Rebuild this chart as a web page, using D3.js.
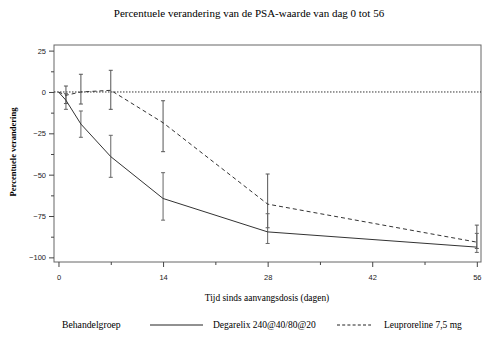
<!DOCTYPE html>
<html><head><meta charset="utf-8">
<script src="https://cdn.jsdelivr.net/npm/d3@7"></script>
<style>body{margin:0;background:#fff}</style>
</head><body>
<svg id="c" width="498" height="338"></svg>
<script>
const days = [0, 1, 3, 7, 14, 28, 56];
const degarelix = [0, -5, -19.4, -39.1, -64.4, -84.6, -93.8];
const degLow = [null, -10.5, -27.4, -51.6, -77.5, -91.6, -97];
const degHigh = [null, -1, -11.5, -26.2, -48.8, -73.6, -85.5];
const leuprorelin = [0, -2, 0, 1, -18.6, -67.8, -90.8];
const leuLow = [null, -7, -7.3, -10.5, -36.1, -82.1, -94.6];
const leuHigh = [null, 3.6, 10.7, 13.1, -5.3, -49.6, -80.5];
const xTicks = [0, 14, 28, 42, 56];
const xMinor = [7, 21, 35, 49];
const yTicks = [25, 0, -25, -50, -75, -100];
const yMinor = [12.5, -12.5, -37.5, -62.5, -87.5];
const title = "Percentuele verandering van de PSA-waarde van dag 0 tot 56";
const yLabel = "Percentuele verandering";
const xLabel = "Tijd sinds aanvangsdosis (dagen)";
const legendTitle = "Behandelgroep";
const seriesNames = ["Degarelix 240@40/80@20", "Leuproreline 7,5 mg"];

const svg = d3.select("#c");
const L = 54, R = 481, T = 45, B = 262;
const x = d3.scaleLinear().domain([-0.6, 56.56]).range([L, R]);
const y = d3.scaleLinear().domain([-102.8, 28.4]).range([B, T]);
const serif = "'Liberation Serif','Times New Roman',serif";
const sans = "'Liberation Sans',Arial,sans-serif";

svg.append("text").attr("x", 249).attr("y", 17).attr("text-anchor", "middle")
  .attr("font-family", serif).attr("font-size", 11).text(title);

// frame
svg.append("rect").attr("x", L).attr("y", T).attr("width", R - L).attr("height", B - T)
  .attr("fill", "none").attr("stroke", "#666").attr("stroke-width", 1);

// y axis
const yAx = svg.append("g").attr("transform", `translate(${L},0)`)
  .call(d3.axisLeft(y).tickValues(yTicks).tickSize(5).tickFormat(d => d === 0 ? "0" : (d < 0 ? "\u2212" + Math.abs(d) : d)));
yAx.select(".domain").remove();
yAx.selectAll("line").attr("stroke", "#444");
yAx.selectAll("text").attr("font-family", sans).attr("font-size", 7.5).attr("fill", "#222").attr("x", -8);
const yAm = svg.append("g").attr("transform", `translate(${L},0)`)
  .call(d3.axisLeft(y).tickValues(yMinor).tickSize(3).tickFormat(""));
yAm.select(".domain").remove();
yAm.selectAll("line").attr("stroke", "#444");

// x axis
const xAx = svg.append("g").attr("transform", `translate(0,${B})`)
  .call(d3.axisBottom(x).tickValues(xTicks).tickSize(5));
xAx.select(".domain").remove();
xAx.selectAll("line").attr("stroke", "#444");
xAx.selectAll("text").attr("font-family", sans).attr("font-size", 7.5).attr("fill", "#222").attr("y", 13);
const xAm = svg.append("g").attr("transform", `translate(0,${B})`)
  .call(d3.axisBottom(x).tickValues(xMinor).tickSize(3).tickFormat(""));
xAm.select(".domain").remove();
xAm.selectAll("line").attr("stroke", "#444");

// labels
svg.append("text").attr("transform", `translate(16,152) rotate(-90)`)
  .attr("text-anchor", "middle").attr("font-family", serif).attr("font-weight", "bold")
  .attr("font-size", 8.5).text(yLabel);
svg.append("text").attr("x", 267).attr("y", 301).attr("text-anchor", "middle")
  .attr("font-family", serif).attr("font-size", 9.4).text(xLabel);

// zero line
svg.append("line").attr("x1", L).attr("x2", R).attr("y1", y(0)).attr("y2", y(0))
  .attr("stroke", "#000").attr("stroke-width", 0.8).attr("stroke-dasharray", "1.5,1.5");

// error bars
function errBars(lo, hi, color) {
  const g = svg.append("g").attr("stroke", color).attr("stroke-width", 1);
  days.forEach((d, i) => {
    if (lo[i] === null) return;
    g.append("line").attr("x1", x(d)).attr("x2", x(d)).attr("y1", y(lo[i])).attr("y2", y(hi[i]));
    [lo[i], hi[i]].forEach(v => g.append("line").attr("x1", x(d) - 2).attr("x2", x(d) + 2)
      .attr("y1", y(v)).attr("y2", y(v)));
  });
}
errBars(leuLow, leuHigh, "#555");
errBars(degLow, degHigh, "#666");

const line = d3.line().x((d, i) => x(days[i])).y(d => y(d));
svg.append("path").datum(degarelix).attr("d", line).attr("fill", "none")
  .attr("stroke", "#333").attr("stroke-width", 1);
svg.append("path").datum(leuprorelin).attr("d", line).attr("fill", "none")
  .attr("stroke", "#333").attr("stroke-width", 1).attr("stroke-dasharray", "4,3");

// legend
const ly = 328;
svg.append("text").attr("x", 62).attr("y", ly).attr("font-family", serif).attr("font-size", 9.7).text(legendTitle);
svg.append("line").attr("x1", 150).attr("x2", 203).attr("y1", ly - 3).attr("y2", ly - 3).attr("stroke", "#222").attr("stroke-width", 1);
svg.append("text").attr("x", 213).attr("y", ly).attr("font-family", serif).attr("font-size", 9.5).text(seriesNames[0]);
svg.append("line").attr("x1", 337).attr("x2", 371).attr("y1", ly - 3).attr("y2", ly - 3).attr("stroke", "#222").attr("stroke-width", 1).attr("stroke-dasharray", "3,2.2");
svg.append("text").attr("x", 384).attr("y", ly).attr("font-family", serif).attr("font-size", 9.5).text(seriesNames[1]);
</script>
</body></html>
